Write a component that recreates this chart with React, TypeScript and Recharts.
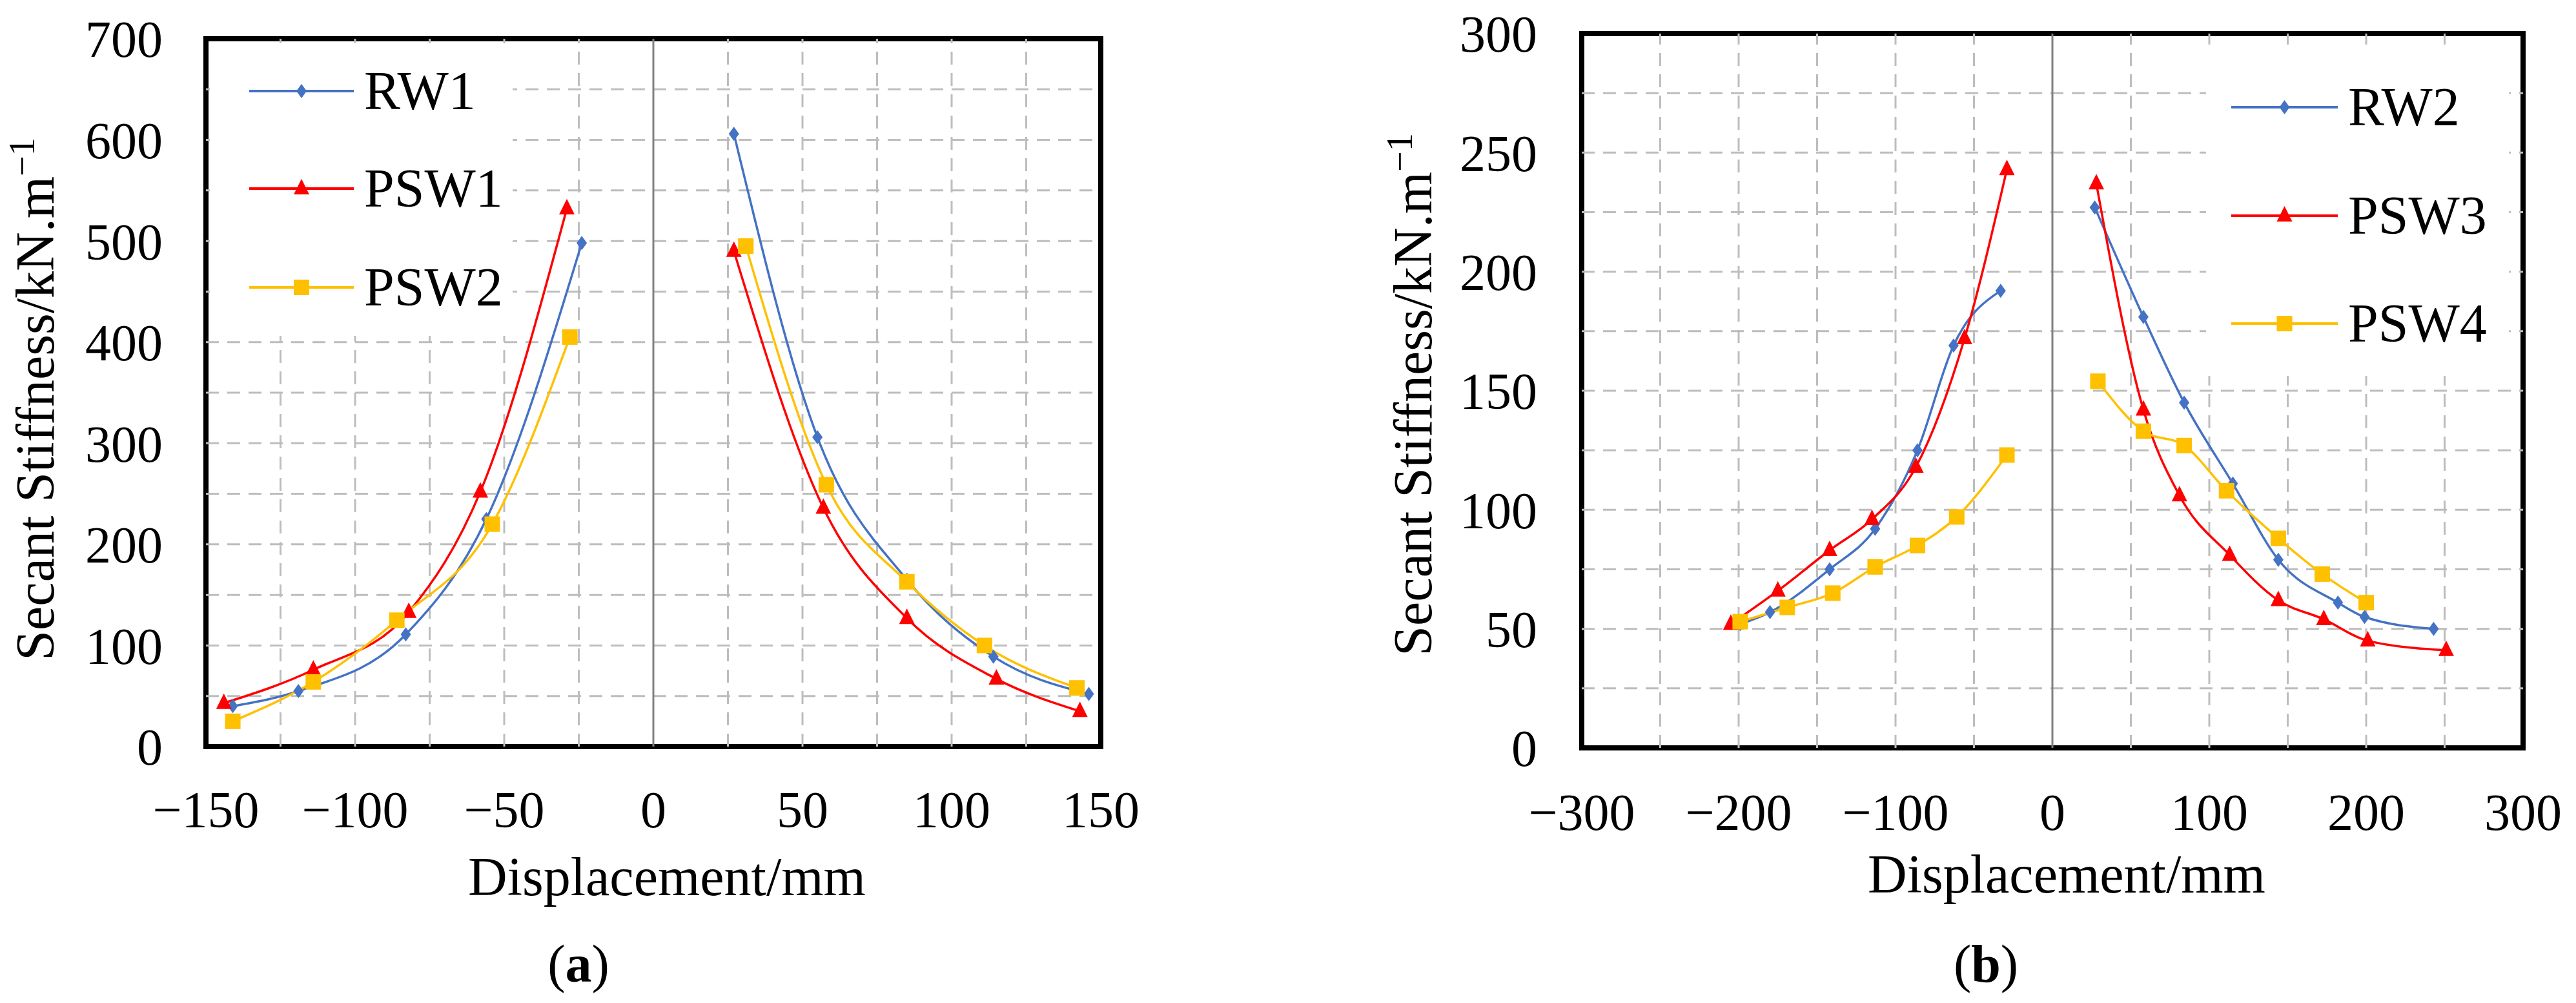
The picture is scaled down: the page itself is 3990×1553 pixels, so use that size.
import React from "react";
import {
  LineChart,
  Line,
  XAxis,
  YAxis,
  ReferenceLine,
  ReferenceArea,
  Legend,
  Label,
} from "recharts";

// ---- panel (a) data: displacement (mm) / secant stiffness (kN/m) ----
const RW1_DISP = [-141, -119, -83, -56, -24, 27, 55, 85, 114, 146];
const RW1_STIFF = [40, 55, 111, 225, 498, 606, 306, 165, 89, 52];
const PSW1_DISP = [-144, -114, -82, -58, -29, 27, 57, 85, 115, 143];
const PSW1_STIFF = [43, 76, 133, 252, 532, 490, 236, 127, 67, 35];
const PSW2_DISP = [-141, -114, -86, -54, -28, 31, 58, 85, 111, 142];
const PSW2_STIFF = [25, 64, 125, 220, 405, 495, 259, 163, 100, 58];

// ---- panel (b) data ----
const RW2_DISP = [-199, -180, -142, -113, -86, -63, -33, 27, 58, 84, 115, 144, 182, 199, 243];
const RW2_STIFF = [52, 57, 75, 92, 125, 169, 192, 227, 181, 145, 111, 79, 61, 55, 50];
const PSW3_DISP = [-205, -175, -142, -115, -87, -56, -29, 28, 58, 81, 113, 144, 173, 201, 251];
const PSW3_STIFF = [52, 66, 83, 96, 118, 172, 243, 237, 142, 106, 81, 62, 54, 45, 41];
const PSW4_DISP = [-199, -169, -140, -113, -86, -61, -29, 29, 58, 84, 111, 144, 172, 200];
const PSW4_STIFF = [53, 59, 65, 76, 85, 97, 123, 154, 133, 127, 108, 88, 73, 61];

// axis ticks and grid values
const A_X_TICKS = [-150, -100, -50, 0, 50, 100, 150];
const A_Y_TICKS = [0, 100, 200, 300, 400, 500, 600, 700];
const A_X_GRID = [-125, -100, -75, -50, -25, 25, 50, 75, 100, 125];
const A_Y_GRID = [50, 100, 150, 200, 250, 300, 350, 400, 450, 500, 550, 600, 650];
const B_X_TICKS = [-300, -200, -100, 0, 100, 200, 300];
const B_Y_TICKS = [0, 50, 100, 150, 200, 250, 300];
const B_X_GRID = [-250, -200, -150, -100, -50, 50, 100, 150, 200, 250];
const B_Y_GRID = [25, 50, 75, 100, 125, 150, 175, 200, 225, 250, 275];

const BLUE = "#4472C4";
const RED = "#FF0000";
const GOLD = "#FFC000";
const FONT = '"Liberation Serif", "Times New Roman", serif';

type Kind = "diamond" | "triangle" | "square";

function toBranches(xs: number[], ys: number[]) {
  const pts = xs.map((x, i) => ({ x, y: ys[i] }));
  return { neg: pts.filter((p) => p.x < 0), pos: pts.filter((p) => p.x > 0) };
}

function Marker({ kind, cx, cy, color }: { kind: Kind; cx: number; cy: number; color: string }) {
  if (kind === "diamond") {
    return (
      <polygon
        points={`${cx},${cy - 11} ${cx + 8},${cy} ${cx},${cy + 11} ${cx - 8},${cy}`}
        fill={color}
      />
    );
  }
  if (kind === "triangle") {
    return (
      <polygon
        points={`${cx},${cy - 15} ${cx + 12},${cy + 9} ${cx - 12},${cy + 9}`}
        fill={color}
      />
    );
  }
  return <rect x={cx - 12} y={cy - 12} width={24} height={24} fill={color} />;
}

const seriesA = [
  { name: "RW1", color: BLUE, kind: "diamond" as Kind, ...toBranches(RW1_DISP, RW1_STIFF) },
  { name: "PSW1", color: RED, kind: "triangle" as Kind, ...toBranches(PSW1_DISP, PSW1_STIFF) },
  { name: "PSW2", color: GOLD, kind: "square" as Kind, ...toBranches(PSW2_DISP, PSW2_STIFF) },
];
const seriesB = [
  { name: "RW2", color: BLUE, kind: "diamond" as Kind, ...toBranches(RW2_DISP, RW2_STIFF) },
  { name: "PSW3", color: RED, kind: "triangle" as Kind, ...toBranches(PSW3_DISP, PSW3_STIFF) },
  { name: "PSW4", color: GOLD, kind: "square" as Kind, ...toBranches(PSW4_DISP, PSW4_STIFF) },
];

const fmt = (v: number) => String(v).replace("-", "\u2212");

function LegendBox({ series, width, height, rows, x1, x2, textX }: any) {
  return (
    <svg width={width} height={height} style={{ display: "block" }}>
      {series.map((s: any, i: number) => (
        <g key={s.name}>
          <line x1={x1} x2={x2} y1={rows[i]} y2={rows[i]} stroke={s.color} strokeWidth={4} />
          <Marker kind={s.kind} cx={(x1 + x2) / 2} cy={rows[i]} color={s.color} />
          <text
            x={textX}
            y={rows[i] + 28}
            fontFamily={FONT}
            fontSize={84}
            fill="#000"
          >
            {s.name}
          </text>
        </g>
      ))}
    </svg>
  );
}

function renderLines(series: any[]) {
  const out: React.ReactNode[] = [];
  series.forEach((s) => {
    ["neg", "pos"].forEach((b) => {
      out.push(
        <Line
          key={s.name + b}
          data={s[b]}
          dataKey="y"
          name={s.name}
          type="monotone"
          stroke={s.color}
          strokeWidth={3.5}
          isAnimationActive={false}
          dot={(p: any) => (
            <Marker key={s.name + b + p.index} kind={s.kind} cx={p.cx} cy={p.cy} color={s.color} />
          )}
          activeDot={false}
        />
      );
    });
  });
  return out;
}

function gridLines(xs: number[], ys: number[]) {
  const common = { stroke: "#BDBDBD", strokeWidth: 3, strokeDasharray: "20 13" };
  return [
    ...ys.map((v) => <ReferenceLine key={"h" + v} y={v} {...common} />),
    ...xs.map((v) => <ReferenceLine key={"v" + v} x={v} {...common} />),
  ];
}

const tickStyle = { fill: "#000", fontSize: 80, fontFamily: FONT };

function YTitle({ x, y }: { x: number; y: number }) {
  return (
    <text
      transform={`translate(${x},${y}) rotate(-90)`}
      textAnchor="middle"
      fontFamily={FONT}
      fontSize={84}
      fill="#000"
    >
      Secant Stiffness/kN.m
      <tspan fontSize={56} dy={-30}>
        {"\u22121"}
      </tspan>
    </text>
  );
}

function XTitle({ x, y, tag, tagX }: { x: number; y: number; tag: string; tagX: number }) {
  return (
    <g>
      <text x={x} y={y} textAnchor="middle" fontFamily={FONT} fontSize={84} fill="#000">
        Displacement/mm
      </text>
      <text x={tagX} y={1520} textAnchor="middle" fontFamily={FONT} fontSize={82} fill="#000">
        (<tspan fontWeight="bold">{tag}</tspan>)
      </text>
    </g>
  );
}

export default function App() {
  return (
    <div
      style={{
        position: "absolute",
        left: 0,
        top: 0,
        width: 3990,
        height: 1553,
        background: "#fff",
        overflow: "hidden",
      }}
    >
      {/* panel (a) */}
      <div style={{ position: "absolute", left: 0, top: 0 }}>
        <LineChart width={1800} height={1553} margin={{ top: 60, right: 95, bottom: 277, left: 0 }}>
          <XAxis
            type="number"
            dataKey="x"
            domain={[-150, 150]}
            ticks={A_X_TICKS}
            tickFormatter={fmt}
            axisLine={false}
            tickLine={false}
            tickSize={0}
            tickMargin={68}
            height={120}
            tick={tickStyle}
            allowDataOverflow
          >
            <Label content={() => <XTitle x={1033} y={1386} tag="a" tagX={896} />} />
          </XAxis>
          <YAxis
            type="number"
            domain={[0, 700]}
            ticks={A_Y_TICKS}
            tickFormatter={fmt}
            axisLine={false}
            tickLine={false}
            tickSize={0}
            tickMargin={67}
            width={319}
            tick={tickStyle}
            allowDataOverflow
          >
            <Label content={() => <YTitle x={83} y={618} />} />
          </YAxis>
          {gridLines(A_X_GRID, A_Y_GRID)}
          <ReferenceLine x={0} stroke="#808080" strokeWidth={3} />
          {renderLines(seriesA)}
          <ReferenceArea
            x1={-150}
            x2={150}
            y1={0}
            y2={700}
            fill="none"
            fillOpacity={0}
            stroke="#000"
            strokeWidth={8}
            ifOverflow="visible"
          />
          <Legend
            layout="horizontal"
            verticalAlign="middle"
            align="center"
            wrapperStyle={{ left: 325, top: 70, width: 469, height: 450, background: "#fff" }}
            content={() => (
              <LegendBox
                series={seriesA}
                width={469}
                height={450}
                rows={[71, 222, 375]}
                x1={61}
                x2={223}
                textX={239}
              />
            )}
          />
        </LineChart>
      </div>

      {/* panel (b) */}
      <div style={{ position: "absolute", left: 1995, top: 0 }}>
        <LineChart width={1995} height={1553} margin={{ top: 52, right: 82, bottom: 275, left: 0 }}>
          <XAxis
            type="number"
            dataKey="x"
            domain={[-300, 300]}
            ticks={B_X_TICKS}
            tickFormatter={fmt}
            axisLine={false}
            tickLine={false}
            tickSize={0}
            tickMargin={70}
            height={120}
            tick={tickStyle}
            allowDataOverflow
          >
            <Label content={() => <XTitle x={1206} y={1382} tag="b" tagX={1081} />} />
          </XAxis>
          <YAxis
            type="number"
            domain={[0, 300]}
            ticks={B_Y_TICKS}
            tickFormatter={fmt}
            axisLine={false}
            tickLine={false}
            tickSize={0}
            tickMargin={69}
            width={455}
            tick={tickStyle}
            allowDataOverflow
          >
            <Label content={() => <YTitle x={222} y={611} />} />
          </YAxis>
          {gridLines(B_X_GRID, B_Y_GRID)}
          <ReferenceLine x={0} stroke="#808080" strokeWidth={3} />
          {renderLines(seriesB)}
          <ReferenceArea
            x1={-300}
            x2={300}
            y1={0}
            y2={300}
            fill="none"
            fillOpacity={0}
            stroke="#000"
            strokeWidth={8}
            ifOverflow="visible"
          />
          <Legend
            layout="horizontal"
            verticalAlign="middle"
            align="center"
            wrapperStyle={{ left: 1422, top: 71, width: 469, height: 511, background: "#fff" }}
            content={() => (
              <LegendBox
                series={seriesB}
                width={469}
                height={511}
                rows={[95, 263, 430]}
                x1={39}
                x2={204}
                textX={220}
              />
            )}
          />
        </LineChart>
      </div>
    </div>
  );
}
